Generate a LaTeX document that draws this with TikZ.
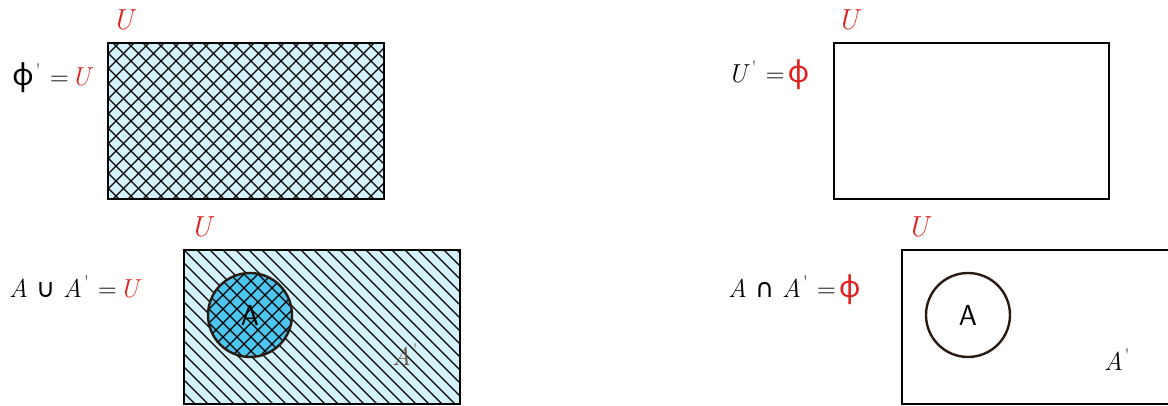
\documentclass[tikz,border=0pt]{standalone}
\usepackage{xcolor}
\usepackage{fontspec}
\usepackage{tikz}
\newfontfamily\phifont{Noto Sans}
\newfontfamily\opfont{DejaVu Sans}
\definecolor{SetRed}{HTML}{E0201B}
\definecolor{PaleCyan}{HTML}{D4F2FB}
\definecolor{DeepCyan}{HTML}{4CC6EE}
\definecolor{Ink}{HTML}{2A1A12}
\definecolor{Umber}{HTML}{6B5040}
\newcommand{\nullset}{{\phifont\fontsize{30}{34}\selectfont ϕ}}
\newcommand{\compl}{\hspace{2pt}\textsuperscript{\textquotesingle}}
\newcommand{\eqsign}{\hspace{9pt}=\hspace{3pt}}

\begin{document}
\begin{tikzpicture}[x=1pt,y=1pt,
    eqn/.style={font=\fontsize{26}{30}\selectfont,inner sep=0pt,anchor=west},
    unilabel/.style={text=SetRed,font=\fontsize{29}{34}\selectfont\itshape,inner sep=0pt},
    setname/.style={font=\sffamily\fontsize{29}{34}\selectfont,inner sep=0pt},
    frame/.style={line width=2.4pt,draw=black},
    hatch/.style={line width=1.1pt,black}]
  \useasboundingbox (0,0) rectangle (1168,406);

  % phi' = U
  \node[unilabel] (u1) at (123,386) {U};
  \node[eqn] (eq1) at (12,328) {\nullset\compl\eqsign\textcolor{SetRed}{\itshape U}};
  \begin{scope}
    \clip (108,207) rectangle (384,363);
    \fill[PaleCyan] (108,207) rectangle (384,363);
    \foreach \k in {-52,-37,...,384} {
      \draw[hatch] (\k,207) -- ++(156,156);
      \draw[hatch] (\k,363) -- ++(156,-156);
    }
  \end{scope}
  \draw[frame] (108,207) rectangle (384,363);

  % U' = phi
  \node[unilabel] (u2) at (848,386) {U};
  \node[eqn] (eq2) at (728,331) {\textit{U}\compl\eqsign\textcolor{SetRed}{\nullset}};
  \draw[frame] (834,207) rectangle (1109,363);

  % A cup A' = U
  \node[unilabel] (u3) at (201,179) {U};
  \node[eqn] (eq3) at (9,119) {\textit{A}\hspace{8pt}{\opfont ∪}\hspace{8pt}\textit{A}\compl\eqsign\textcolor{SetRed}{\itshape U}};
  \begin{scope}
    \clip (184,2) rectangle (460,156);
    \fill[PaleCyan] (184,2) rectangle (460,156);
    \foreach \k in {28,41,...,460} {
      \draw[hatch] (\k,156) -- ++(154,-154);
    }
  \end{scope}
  \draw[frame] (184,2) rectangle (460,156);
  \begin{scope}
    \clip (250,91) circle (42);
    \fill[DeepCyan] (250,91) circle (42);
    \foreach \k in {152,166,...,300} {
      \draw[hatch] (\k,140) -- ++(100,-100);
      \draw[hatch] (\k,40) -- ++(100,100);
    }
  \end{scope}
  \node[draw=Ink,line width=2.4pt,circle,minimum size=84pt] (a3) at (250,91) {};
  \node[setname] at (a3) {A};
  \node[eqn,text=Umber,anchor=center] (ac3) at (405,51) {\textit{A}\compl};

  % A cap A' = phi
  \node[unilabel] (u4) at (918,179) {U};
  \node[eqn] (eq4) at (728,116) {\textit{A}\hspace{8pt}{\opfont ∩}\hspace{8pt}\textit{A}\compl\eqsign\textcolor{SetRed}{\nullset}};
  \draw[frame] (1172,156) -- (902,156) -- (902,2) -- (1172,2);
  \node[draw=Ink,line width=2.4pt,circle,minimum size=84pt] (a4) at (968,91) {};
  \node[setname] at (a4) {A};
  \node[eqn,anchor=center] (ac4) at (1117,46) {\textit{A}\compl};
\end{tikzpicture}
\end{document}
